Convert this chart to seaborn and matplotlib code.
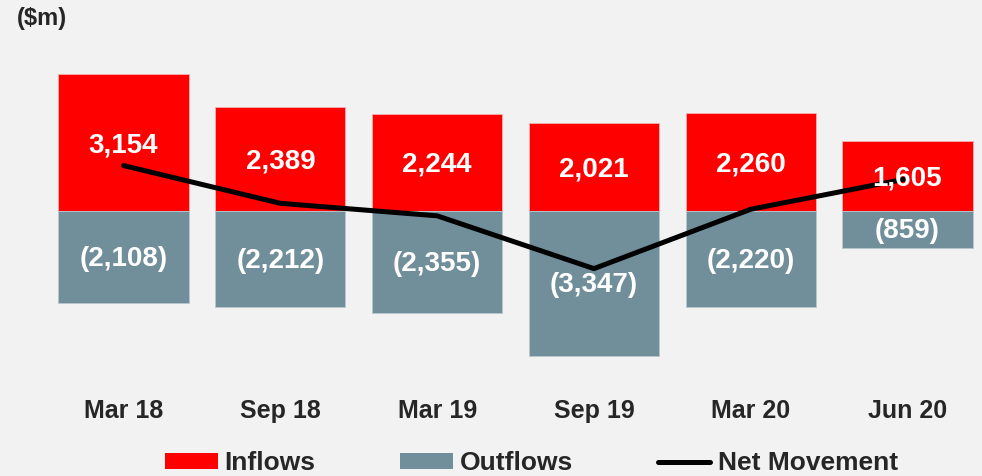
import numpy as np
import pandas as pd
import matplotlib
matplotlib.use("Agg")
import matplotlib.pyplot as plt
import seaborn as sns
from matplotlib.patches import Patch
from matplotlib.lines import Line2D

# values ($m)
periods = ["Mar 18", "Sep 18", "Mar 19", "Sep 19", "Mar 20", "Jun 20"]
inflows = [3154, 2389, 2244, 2021, 2260, 1605]
outflows = [2108, 2212, 2355, 3347, 2220, 859]

df = pd.DataFrame({"period": periods, "inflows": inflows, "outflows": outflows})
df["out_neg"] = -df["outflows"]
df["net"] = df["inflows"] - df["outflows"]
df["pos"] = np.arange(len(df))

red = "#ff0000"
grey = "#718f9a"
bg = "#f2f2f2"

sns.set_style("white")
plt.rcParams["font.family"] = ["Liberation Sans", "DejaVu Sans"]
plt.rcParams["font.weight"] = "bold"

fig = plt.figure(figsize=(9.82, 4.76), dpi=100, facecolor=bg)
ax = fig.add_axes([0.046, 0.1916, 0.958, 0.6937])
ax.set_facecolor(bg)

sns.barplot(data=df, x="period", y="inflows", color=red, width=0.83,
            saturation=1, edgecolor="#f5b0b0", linewidth=0.6, ax=ax)
sns.barplot(data=df, x="period", y="out_neg", color=grey, width=0.83,
            saturation=1, edgecolor="#b8c8cc", linewidth=0.6, ax=ax)
sns.lineplot(data=df, x="pos", y="net", color="black", linewidth=3.6,
             solid_capstyle="round", ax=ax, zorder=5)

# labels inside bars
for i, row in df.iterrows():
    ax.text(i, row["inflows"] / 2 - 60, f"{row['inflows']:,}", ha="center", va="center",
            color="white", fontsize=20, fontweight="bold", zorder=6)
    ax.text(i, row["out_neg"] / 2 - 40, f"({row['outflows']:,})", ha="center", va="center",
            color="white", fontsize=20, fontweight="bold", zorder=6)

ax.set_xlim(-0.5, 5.5)
ax.set_ylim(-4000, 3600)
ax.set_xlabel("")
ax.set_ylabel("")
ax.set_yticks([])
ax.set_xticks(range(len(periods)))
ax.set_xticklabels(periods, fontsize=18, fontweight="bold")
ax.tick_params(axis="x", length=0, pad=10)
sns.despine(ax=ax, left=True, bottom=True)

fig.text(0.017, 0.962, "($m)", fontsize=17, fontweight="bold", ha="left", va="center")

handles = [Patch(facecolor=red, edgecolor="none"),
           Patch(facecolor=grey, edgecolor="none"),
           Line2D([0], [0], color="black", linewidth=3.6, solid_capstyle="round")]
fig.legend(handles, ["Inflows", "Outflows", "Net Movement"], loc="center",
           bbox_to_anchor=(0.541, 0.027), ncol=3, frameon=False,
           prop={"size": 19, "weight": "bold"}, handlelength=2.0, handleheight=0.53,
           handletextpad=0.27, columnspacing=3.2)

fig.savefig("out.png", dpi=100, facecolor=bg)
